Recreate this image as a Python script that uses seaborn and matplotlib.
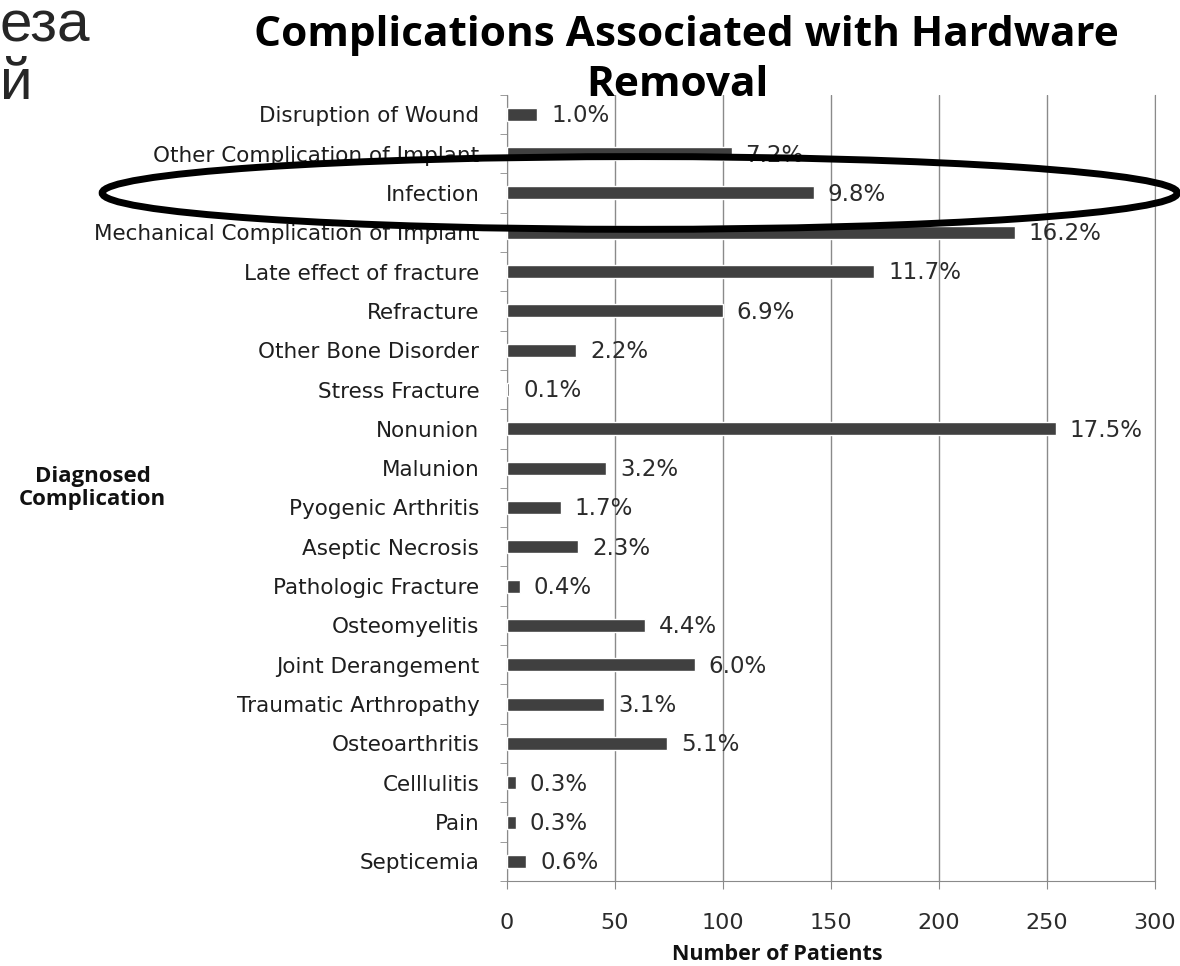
import numpy as np
import matplotlib
matplotlib.use('Agg')
import matplotlib.pyplot as plt
from matplotlib.patches import Ellipse
from matplotlib.ticker import FixedLocator
import seaborn as sns

categories = ['Disruption of Wound', 'Other Complication of Implant', 'Infection',
              'Mechanical Complication of Implant', 'Late effect of fracture',
              'Refracture', 'Other Bone Disorder', 'Stress Fracture', 'Nonunion',
              'Malunion', 'Pyogenic Arthritis', 'Aseptic Necrosis',
              'Pathologic Fracture', 'Osteomyelitis', 'Joint Derangement',
              'Traumatic Arthropathy', 'Osteoarthritis', 'Celllulitis', 'Pain',
              'Septicemia']
patients = [14, 104, 142, 235, 170, 100, 32, 1, 254, 46, 25, 33, 6, 64, 87,
            45, 74, 4, 4, 9]
percent = [1.0, 7.2, 9.8, 16.2, 11.7, 6.9, 2.2, 0.1, 17.5, 3.2, 1.7, 2.3, 0.4,
           4.4, 6.0, 3.1, 5.1, 0.3, 0.3, 0.6]
x_ticks = [0, 50, 100, 150, 200, 250, 300]

sns.set_style('white')
plt.rcParams['font.family'] = ['DejaVu Sans']
bold_font = ['Open Sans', 'DejaVu Sans']

fig = plt.figure(figsize=(11.8, 9.66), dpi=100)
ax = fig.add_axes([0.4297, 0.088, 0.549, 0.814])

sns.barplot(x=patients, y=categories, orient='h', color='#404040',
            saturation=1, width=0.33, ax=ax, zorder=3)

ax.set_xlim(0, 300)
ax.set_xticks(x_ticks)
ax.grid(axis='x', color='#8a8a8a', lw=1, zorder=0)
ax.grid(axis='y', visible=False)

for i, (n, p) in enumerate(zip(patients, percent)):
    ax.annotate('{:.1f}%'.format(p), xy=(n, i), xytext=(10, -1),
                textcoords='offset points', va='center', ha='left',
                fontsize=16.5, color='#2b2b2b')

# tick styling
ax.tick_params(axis='y', which='major', length=0, pad=20, labelsize=15.5,
               labelcolor='#1e1e1e')
ax.yaxis.set_minor_locator(FixedLocator(np.arange(-0.5, 20, 1)))
ax.tick_params(axis='y', which='minor', left=True, length=5, color='#8a8a8a')
ax.tick_params(axis='x', length=6, color='#8a8a8a', pad=17, labelsize=16,
               labelcolor='#2b2b2b', bottom=True)

ax.spines['top'].set_visible(False)
for side in ['left', 'bottom', 'right']:
    ax.spines[side].set_color('#8a8a8a')

ax.set_xlabel('Number of Patients', fontsize=15.5, fontweight='bold',
              color='#111111', ha='left', va='top', family=bold_font)
ax.xaxis.set_label_coords(0.255, -0.080)
ax.set_ylabel('Diagnosed\nComplication', fontsize=16, fontweight='bold',
              rotation=0, ha='center', va='center', color='#111111',
              linespacing=1.1, family=bold_font)
ax.yaxis.set_label_coords(-0.64, 0.5)

fig.text(0.582, 1 - 35 / 966, 'Complications Associated with Hardware',
         ha='center', va='center', fontsize=30.5, fontweight='bold',
         color='black', family=bold_font)
fig.text(0.574, 1 - 85 / 966, 'Removal', ha='center', va='center',
         fontsize=30.5, fontweight='bold', color='black', family=bold_font)

# cropped text from the slide
fig.text(0.0, 0.957, 'еза', family='Liberation Sans', fontsize=42,
         ha='left', va='baseline')
fig.text(0.0, 0.897, 'й', family='Liberation Sans', fontsize=42,
         ha='left', va='baseline')

# highlight around Infection
ax.add_patch(Ellipse((61.5, 2), width=498, height=1.85, fill=False,
                     ec='black', lw=5, clip_on=False, zorder=5))

fig.savefig('out.png', dpi=100)
